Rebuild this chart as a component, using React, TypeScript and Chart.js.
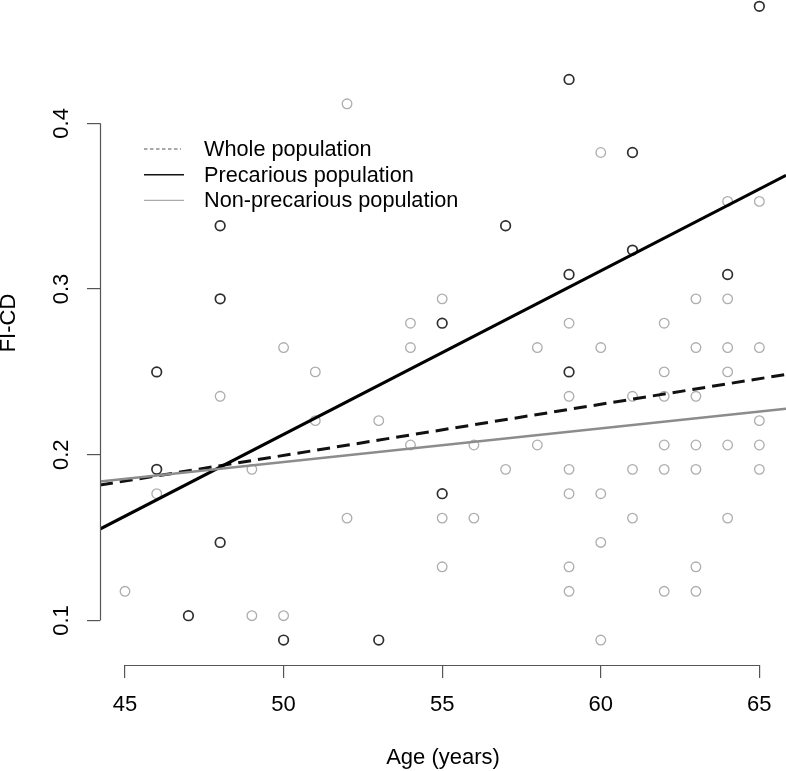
import React, { useEffect, useRef } from 'react';
import { Chart, registerables } from 'chart.js';

Chart.register(...registerables);

// Axis ticks
const xTicks = [45, 50, 55, 60, 65];
const yTicks = [0.1, 0.2, 0.3, 0.4];

// Precarious population (dark circles)
const precariousAge = [46, 46, 47, 48, 48, 48, 50, 53, 55, 55, 57, 59, 59, 59, 61, 61, 64, 65];
const precariousFI = [0.25, 0.1912, 0.1029, 0.3382, 0.2941, 0.1471, 0.0882, 0.0882, 0.2794, 0.1765, 0.3382, 0.4265, 0.3088, 0.25, 0.3824, 0.3235, 0.3088, 0.4706];

// Non-precarious population (grey circles)
const nonPrecariousAge = [
  45, 46, 48, 49, 49, 50, 50, 51, 51, 52, 52, 53, 54, 54, 54, 55, 55, 55, 56, 56, 57, 58, 58,
  59, 59, 59, 59, 59, 59, 60, 60, 60, 60, 60, 61, 61, 61, 62, 62, 62, 62, 62, 62,
  63, 63, 63, 63, 63, 63, 63, 64, 64, 64, 64, 64, 64, 65, 65, 65, 65, 65,
];
const nonPrecariousFI = [
  0.1176, 0.1765, 0.2353, 0.1912, 0.1029, 0.2647, 0.1029, 0.25, 0.2206, 0.4118, 0.1618, 0.2206, 0.2794, 0.2647, 0.2059, 0.2941, 0.1618, 0.1324, 0.2059, 0.1618, 0.1912, 0.2647, 0.2059,
  0.2794, 0.2353, 0.1912, 0.1765, 0.1324, 0.1176, 0.3824, 0.2647, 0.1765, 0.1471, 0.0882, 0.2353, 0.1912, 0.1618, 0.2794, 0.25, 0.2353, 0.2059, 0.1912, 0.1176,
  0.2941, 0.2647, 0.2353, 0.2059, 0.1912, 0.1324, 0.1176, 0.3529, 0.2941, 0.2647, 0.25, 0.2059, 0.1618, 0.3529, 0.2647, 0.2206, 0.2059, 0.1912,
];

// Regression lines (FI-CD = intercept + slope * age)
const lineNames = ['Whole population', 'Precarious population', 'Non-precarious population'];
const lineIntercepts = [0.0452, -0.2812, 0.0939];
const lineSlopes = [0.003088, 0.00987, 0.002034];

const FONT = "'Liberation Sans', Arial, Helvetica, sans-serif";

export default function App() {
  const ref = useRef<HTMLCanvasElement | null>(null);

  useEffect(() => {
    if (!ref.current) return;
    const X_MIN = 44.212;
    const X_MAX = 65.84;
    const Y_MIN = 0.07314;
    const Y_MAX = 0.4859;

    const styles = [
      { color: '#111111', width: 3, dash: [13, 7], lColor: '#555555', lWidth: 1.2, lDash: [3.5, 2.5], lLen: 37 },
      { color: '#000000', width: 3, dash: [] as number[], lColor: '#111111', lWidth: 1.4, lDash: [] as number[], lLen: 40 },
      { color: '#8c8c8c', width: 2.5, dash: [] as number[], lColor: '#aaaaaa', lWidth: 1.4, lDash: [] as number[], lLen: 40 },
    ];

    const lineData = (i: number) =>
      [X_MIN, X_MAX].map((x) => ({ x, y: lineIntercepts[i] + lineSlopes[i] * x }));

    const rStyle = {
      id: 'rStyle',
      afterDraw(chart: any) {
        const { ctx, chartArea, scales } = chart;
        const xs = scales.x;
        const ys = scales.y;
        ctx.save();
        ctx.strokeStyle = '#555555';
        ctx.lineWidth = 1.2;
        ctx.setLineDash([]);
        const by = Math.round(chartArea.bottom) + 0.5;
        const lx = Math.round(chartArea.left) + 0.5;
        ctx.beginPath();
        ctx.moveTo(xs.getPixelForValue(xTicks[0]), by);
        ctx.lineTo(xs.getPixelForValue(xTicks[xTicks.length - 1]), by);
        ctx.moveTo(lx, ys.getPixelForValue(yTicks[0]));
        ctx.lineTo(lx, ys.getPixelForValue(yTicks[yTicks.length - 1]));
        ctx.stroke();

        // legend
        const lx0 = 144;
        const ty0 = chartArea.top + 168;
        const rowH = 25.7;
        ctx.font = `21.7px ${FONT}`;
        ctx.textBaseline = 'middle';
        ctx.textAlign = 'left';
        ctx.fillStyle = '#000000';
        lineNames.forEach((name, i) => {
          const s = styles[i];
          const yy = ty0 + i * rowH;
          ctx.beginPath();
          ctx.strokeStyle = s.lColor;
          ctx.lineWidth = s.lWidth;
          ctx.setLineDash(s.lDash);
          ctx.moveTo(lx0, yy);
          ctx.lineTo(lx0 + s.lLen, yy);
          ctx.stroke();
          ctx.setLineDash([]);
          ctx.fillText(name, 204, yy + 1);
        });
        ctx.restore();
      },
    };

    const chart = new Chart(ref.current, {
      type: 'scatter',
      data: {
        datasets: [
          ...lineNames.map((name, i) => ({
            type: 'line' as const,
            label: name,
            data: lineData(i),
            borderColor: styles[i].color,
            borderWidth: styles[i].width,
            borderDash: styles[i].dash,
            pointRadius: 0,
            fill: false,
            order: 2 - i,
          })),
          {
            label: 'Non-precarious',
            data: nonPrecariousAge.map((x, i) => ({ x, y: nonPrecariousFI[i] })),
            pointStyle: 'circle',
            pointRadius: 4.8,
            borderColor: '#adadad',
            borderWidth: 1.3,
            backgroundColor: 'rgba(0,0,0,0)',
            order: 5,
          },
          {
            label: 'Precarious',
            data: precariousAge.map((x, i) => ({ x, y: precariousFI[i] })),
            pointStyle: 'circle',
            pointRadius: 4.8,
            borderColor: '#2e2e2e',
            borderWidth: 1.7,
            backgroundColor: 'rgba(0,0,0,0)',
            order: 4,
          },
        ],
      },
      options: {
        animation: false,
        responsive: true,
        maintainAspectRatio: false,
        devicePixelRatio: 1,
        layout: { padding: 0, autoPadding: false },
        plugins: { legend: { display: false }, tooltip: { enabled: false } },
        events: [],
        scales: {
          x: {
            type: 'linear',
            position: 'bottom',
            min: X_MIN,
            max: X_MAX,
            afterBuildTicks: (s: any) => {
              s.ticks = xTicks.map((v) => ({ value: v }));
            },
            afterFit: (s: any) => {
              s.height = 106;
              s.paddingLeft = 0;
              s.paddingRight = 0;
              s.paddingTop = 0;
              s.paddingBottom = 0;
            },
            border: { display: false },
            grid: { drawOnChartArea: false, drawTicks: true, tickLength: 13, color: '#555555', lineWidth: 1.2 },
            ticks: {
              padding: 14,
              maxRotation: 0,
              minRotation: 0,
              autoSkip: false,
              color: '#000000',
              font: { family: FONT, size: 22 },
              callback: (v: any) => String(v),
            },
            title: {
              display: true,
              text: 'Age (years)',
              color: '#000000',
              font: { family: FONT, size: 22 },
              padding: { top: 0, bottom: 0 },
            },
          },
          y: {
            type: 'linear',
            position: 'left',
            min: Y_MIN,
            max: Y_MAX,
            afterBuildTicks: (s: any) => {
              s.ticks = yTicks.map((v) => ({ value: v }));
            },
            afterFit: (s: any) => {
              s.width = 100;
              s.paddingLeft = 0;
              s.paddingRight = 0;
              s.paddingTop = 0;
              s.paddingBottom = 0;
            },
            border: { display: false },
            grid: { drawOnChartArea: false, drawTicks: true, tickLength: 13, color: '#555555', lineWidth: 1.2 },
            ticks: {
              padding: 10,
              minRotation: 90,
              maxRotation: 90,
              crossAlign: 'center',
              autoSkip: false,
              color: '#000000',
              font: { family: FONT, size: 22 },
              callback: (v: any) => String(v),
            },
            title: {
              display: true,
              text: 'FI-CD',
              color: '#000000',
              font: { family: FONT, size: 22, lineHeight: 1 },
              padding: { top: -2, bottom: 0 },
            },
          },
        },
      },
      plugins: [rStyle],
    } as any);

    return () => chart.destroy();
  }, []);

  return (
    <div style={{ position: 'fixed', left: 0, top: -19, width: 786, height: 790 }}>
      <canvas ref={ref} style={{ display: 'block' }} />
    </div>
  );
}
